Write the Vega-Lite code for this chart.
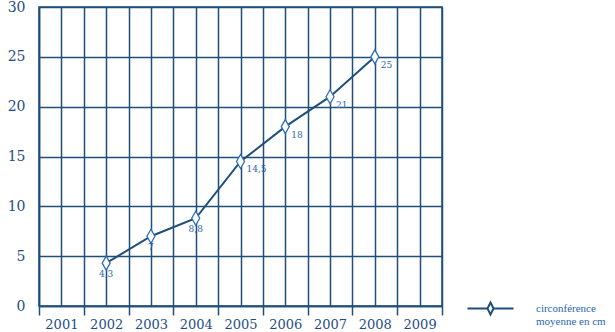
{
  "$schema": "https://vega.github.io/schema/vega-lite/v6.json",
  "width": 403,
  "height": 299,
  "autosize": {"type": "none"},
  "padding": {"left": 39, "top": 7, "right": 173, "bottom": 26},
  "background": "white",
  "config": {
    "view": {"stroke": "#1f4e79", "strokeWidth": 1.5},
    "font": "DejaVu Serif"
  },
  "data": {
    "values": [
      {"annee": 2002, "valeur": 4.3, "serie": "circonférence moyenne en cm"},
      {"annee": 2003, "valeur": 7, "serie": "circonférence moyenne en cm"},
      {"annee": 2004, "valeur": 8.8, "serie": "circonférence moyenne en cm"},
      {"annee": 2005, "valeur": 14.5, "serie": "circonférence moyenne en cm"},
      {"annee": 2006, "valeur": 18, "serie": "circonférence moyenne en cm"},
      {"annee": 2007, "valeur": 21, "serie": "circonférence moyenne en cm"},
      {"annee": 2008, "valeur": 25, "serie": "circonférence moyenne en cm"}
    ]
  },
  "transform": [
    {"calculate": "replace(toString(datum.valeur), '.', ',')", "as": "etiquette"}
  ],
  "encoding": {
    "x": {
      "field": "annee",
      "type": "quantitative",
      "scale": {"domain": [2000.5, 2009.5], "nice": false, "zero": false},
      "axis": {
        "title": null,
        "values": [2000.5, 2001, 2001.5, 2002, 2002.5, 2003, 2003.5, 2004, 2004.5, 2005, 2005.5, 2006, 2006.5, 2007, 2007.5, 2008, 2008.5, 2009, 2009.5],
        "labelExpr": "datum.value % 1 === 0 ? toString(datum.value) : ''",
        "labelOverlap": false,
        "labelFont": "DejaVu Serif",
        "labelFontSize": 13,
        "labelColor": "#1e4d86",
        "labelPadding": 3,
        "labelBaseline": "top",
        "labelFlush": false,
        "tickSize": 9,
        "tickWidth": 1.5,
        "tickColor": "#1f4e79",
        "tickOpacity": {"condition": {"test": "datum.value % 1 !== 0", "value": 1}, "value": 0},
        "domainColor": "#1f4e79",
        "domainWidth": 1.5,
        "grid": true,
        "gridColor": "#1f4e79",
        "gridWidth": 1.5,
        "gridOpacity": 1
      }
    },
    "y": {
      "field": "valeur",
      "type": "quantitative",
      "scale": {"domain": [0, 30], "nice": false},
      "axis": {
        "title": null,
        "values": [0, 5, 10, 15, 20, 25, 30],
        "ticks": false,
        "labelPadding": 14,
        "labelFont": "DejaVu Serif",
        "labelFontSize": 14,
        "labelColor": "#1e4d86",
        "labelFlush": false,
        "domainColor": "#1f4e79",
        "domainWidth": 1.5,
        "grid": true,
        "gridColor": "#1f4e79",
        "gridWidth": 1.5,
        "gridOpacity": 1
      }
    }
  },
  "layer": [
    {
      "mark": {"type": "line", "strokeWidth": 2},
      "encoding": {
        "color": {
          "field": "serie",
          "type": "nominal",
          "scale": {"range": ["#1f4e79"]},
          "legend": {
            "title": null,
            "orient": "none",
            "legendX": 441,
            "legendY": 291,
            "padding": 0,
            "symbolType": "M-2.5,0H-0.33M0.33,0H2.5M0,-0.65L0.33,0L0,0.65L-0.33,0Z",
            "symbolSize": 340,
            "symbolStrokeWidth": 2,
            "labelOffset": 35,
            "labelExpr": "['circonférence', 'moyenne en cm']",
            "labelFont": "Liberation Serif",
            "labelFontSize": 11,
            "labelColor": "#2a66ad",
            "labelLimit": 300
          }
        }
      }
    },
    {
      "mark": {
        "type": "point",
        "shape": "M0,-1L0.57,0L0,1L-0.57,0Z",
        "size": 196,
        "filled": false,
        "fill": "white",
        "fillOpacity": 1,
        "stroke": "#2e6fba",
        "strokeWidth": 1.3,
        "opacity": 1
      }
    },
    {
      "transform": [{"filter": "datum.annee <= 2004"}],
      "mark": {"type": "text", "align": "center", "baseline": "top", "dy": 7, "font": "DejaVu Serif", "fontSize": 9, "color": "#2a66ad"},
      "encoding": {"text": {"field": "etiquette"}}
    },
    {
      "transform": [{"filter": "datum.annee >= 2005"}],
      "mark": {"type": "text", "align": "left", "baseline": "top", "dx": 6, "dy": 4, "font": "DejaVu Serif", "fontSize": 9, "color": "#2a66ad"},
      "encoding": {"text": {"field": "etiquette"}}
    }
  ]
}
